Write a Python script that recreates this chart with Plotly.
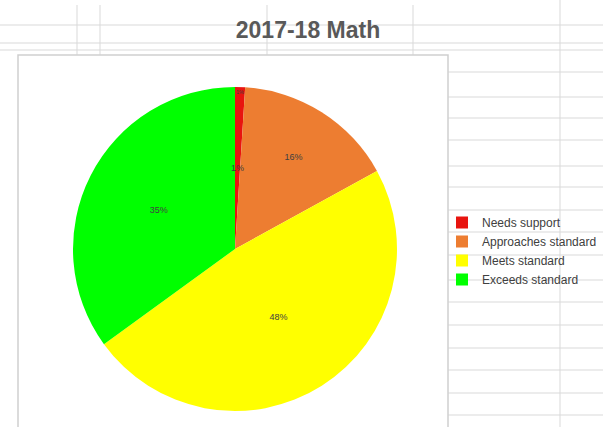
import math
import plotly.graph_objects as go

# Data
categories = ["Needs support", "Approaches standard", "Meets standard", "Exceeds standard"]
percentages = [1, 16, 48, 35]
colors = ["#E8140F", "#ED7D31", "#FFFF00", "#00FF00"]

W, H = 603, 427

def px(x):
    return x / W

def py(y):
    return 1 - y / H

# Pie placement (paper coordinates)
dom_x = [px(73), px(397)]
dom_y = [py(411), py(87)]
label_font = dict(family="Liberation Sans, Arial", size=9, color="#404040")

fig = go.Figure(
    go.Pie(
        labels=categories,
        values=percentages,
        marker=dict(colors=colors, line=dict(width=0)),
        sort=False,
        direction="clockwise",
        rotation=0,
        textinfo="percent",
        texttemplate="%{percent:.0%}",
        textposition="inside",
        insidetextorientation="horizontal",
        textfont=label_font,
        domain=dict(x=dom_x, y=dom_y),
        showlegend=True,
    )
)

# The thinnest slice is too narrow for Plotly's inside text, so its
# label is placed at half the radius along the slice's mid-angle.
total = sum(percentages)
mid = 0.5 * percentages[0] / total * 2 * math.pi
cx, cy = sum(dom_x) / 2, sum(dom_y) / 2
rx, ry = (dom_x[1] - dom_x[0]) / 2, (dom_y[1] - dom_y[0]) / 2
annotations = [dict(
    xref="paper", yref="paper",
    x=cx + 0.5 * rx * math.sin(mid), y=cy + 0.5 * ry * math.cos(mid),
    text=f"{round(percentages[0] / total * 100)}%", showarrow=False,
    font=label_font, xanchor="center", yanchor="middle",
)]

# Spreadsheet grid behind the chart
grid = "#d9d9d9"
shapes = []
for y in [25, 43, 50]:
    shapes.append(dict(type="line", xref="paper", yref="paper",
                       x0=0, x1=1, y0=py(y), y1=py(y),
                       line=dict(color=grid, width=1), layer="below"))
for y in [72, 97, 118, 140, 166, 187, 210, 232, 255, 280, 302, 325, 348, 370, 393, 415]:
    shapes.append(dict(type="line", xref="paper", yref="paper",
                       x0=px(448), x1=1, y0=py(y), y1=py(y),
                       line=dict(color=grid, width=1), layer="below"))
for x in [77, 100, 267, 413]:
    shapes.append(dict(type="line", xref="paper", yref="paper",
                       x0=px(x), x1=px(x), y0=py(5), y1=py(55),
                       line=dict(color=grid, width=1), layer="below"))
shapes.append(dict(type="line", xref="paper", yref="paper",
                   x0=px(560), x1=px(560), y0=0, y1=1,
                   line=dict(color=grid, width=1), layer="below"))
# Chart area box
shapes.append(dict(type="rect", xref="paper", yref="paper",
                   x0=px(18), x1=px(448), y0=py(430), y1=py(55),
                   fillcolor="white", line=dict(color="#cfcfcf", width=1.5),
                   layer="below"))

fig.update_layout(
    width=W, height=H,
    margin=dict(l=0, r=0, t=0, b=0),
    paper_bgcolor="white",
    plot_bgcolor="white",
    shapes=shapes,
    annotations=annotations,
    title=dict(
        text="<b>2017-18 Math</b>",
        x=px(308), xanchor="center",
        y=py(30), yanchor="middle",
        font=dict(family="Liberation Sans, Arial", size=23, color="#595959"),
    ),
    legend=dict(
        x=px(442), y=py(208), xanchor="left", yanchor="top",
        font=dict(family="Liberation Sans, Arial", size=12, color="#404040"),
        bgcolor="rgba(0,0,0,0)",
        itemwidth=30,
        tracegroupgap=0,
    ),
)

fig.write_html("out.html")
